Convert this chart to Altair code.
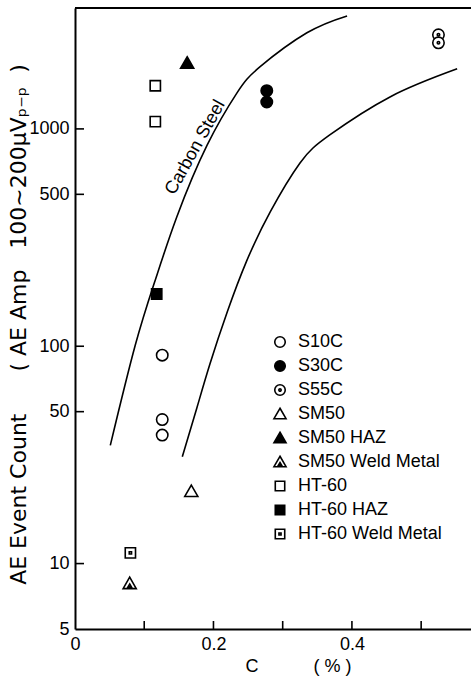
import altair as alt
import pandas as pd

# ---------------- data ----------------
legend_order = ["S10C", "S30C", "S55C", "SM50", "SM50 HAZ", "SM50 Weld Metal",
                "HT-60", "HT-60 HAZ", "HT-60 Weld Metal"]

pt_series = ["S10C", "S10C", "S10C", "S30C", "S30C", "S55C", "S55C", "SM50",
             "SM50 HAZ", "SM50 Weld Metal", "HT-60", "HT-60", "HT-60 HAZ",
             "HT-60 Weld Metal"]
pt_c = [0.126, 0.126, 0.126, 0.277, 0.277, 0.525, 0.525, 0.168,
        0.162, 0.079, 0.116, 0.116, 0.118, 0.080]
pt_count = [91, 46, 39, 1500, 1330, 2710, 2490, 21.5,
            2010, 8.1, 1580, 1080, 174, 11.2]

upper_c = [0.051, 0.087, 0.116, 0.147, 0.191, 0.234, 0.267, 0.335, 0.393]
upper_count = [35, 101, 202, 393, 844, 1465, 1928, 2768, 3311]
lower_c = [0.155, 0.176, 0.195, 0.220, 0.248, 0.282, 0.325, 0.368, 0.455, 0.552]
lower_count = [31, 52, 83, 144, 247, 415, 697, 938, 1403, 1889]

x_tick_values = [0.1, 0.2, 0.3, 0.4, 0.5]
x_label_values = [0, 0.2, 0.4]
y_tick_values = [10, 50, 100, 500, 1000]
y_label_values = [5, 10, 50, 100, 500, 1000]

curve_label = ["Carbon Steel"]
curve_label_c = [0.174]
curve_label_count = [822]

# ---------------- tables ----------------
pts = pd.DataFrame({"series": pt_series, "c": pt_c, "count": pt_count})
curves = pd.concat([
    pd.DataFrame({"curve": "upper", "c": upper_c, "count": upper_count}),
    pd.DataFrame({"curve": "lower", "c": lower_c, "count": lower_count}),
])
xticks = pd.DataFrame({"c": x_tick_values})
yticks = pd.DataFrame({"count": y_tick_values})
lab = pd.DataFrame({"t": curve_label, "c": curve_label_c, "count": curve_label_count})

W, H = 396, 621
FONT = "Liberation Sans"
NB = "\u00a0"

circle = "M1,0A1,1,0,1,1,-1,0A1,1,0,1,1,1,0Z"
dot_c = "M0.22,0A0.22,0.22,0,1,1,-0.22,0A0.22,0.22,0,1,1,0.22,0Z"
tri = "M0,-1.1L1.15,0.9L-1.15,0.9Z"
tri_dot = "M0,0.1L0.3,0.6L-0.3,0.6Z"
sq = "M-0.9,-0.9H0.9V0.9H-0.9Z"
sq_dot = "M-0.2,-0.2H0.2V0.2H-0.2Z"
shapes = [circle, circle, circle + dot_c, tri, tri, tri + tri_dot, sq, sq, sq + sq_dot]
fills = ["white", "black", "white", "white", "black", "white", "white", "black", "white"]
strokes = ["black"] * 9

xscale = alt.Scale(domain=[0, 0.572], nice=False, zero=False)
yscale = alt.Scale(type="log", domain=[5, 3600], nice=False)

y_title = ("AE" + NB + "Event" + NB + "Count" + NB * 6 + "(" + NB + "AE" + NB + "Amp"
           + NB * 3 + "100~200\u03bcV\u209a\u208b\u209a" + NB * 2 + ")")

xaxis = alt.Axis(values=x_label_values, ticks=False, grid=False,
                 labelExpr="datum.value == 0 ? '0' : format(datum.value, '.1f')",
                 labelFont=FONT, labelFontSize=18, labelPadding=6, labelFlush=False,
                 title="C" + NB * 11 + "(" + NB + "%" + NB + ")",
                 titleFont=FONT, titleFontSize=18, titleFontWeight="normal",
                 titleX=223, titleY=37, titleAnchor="middle", titleBaseline="middle",
                 titleAlign="center")
yaxis = alt.Axis(values=y_label_values, ticks=False, grid=False,
                 labelFont=FONT, labelFontSize=18, labelPadding=6, labelFlush=False,
                 format="d",
                 title=y_title,
                 titleFont="DejaVu Sans", titleFontSize=22, titleFontWeight="normal",
                 titleAngle=270, titleX=-57, titleY=316, titleAlign="center",
                 titleBaseline="middle")

leg = alt.Legend(orient="none", legendX=196, legendY=325, title=None,
                 labelFont=FONT, labelFontSize=18, labelColor="black",
                 symbolSize=110, symbolStrokeWidth=1.6,
                 rowPadding=6, labelOffset=9, padding=0)

points = alt.Chart(pts).mark_point(filled=True, opacity=1,
                                   strokeWidth=1.6, size=130).encode(
    x=alt.X("c:Q", scale=xscale, axis=xaxis),
    y=alt.Y("count:Q", scale=yscale, axis=yaxis),
    shape=alt.Shape("series:N", scale=alt.Scale(domain=legend_order, range=shapes), legend=leg),
    fill=alt.Fill("series:N", scale=alt.Scale(domain=legend_order, range=fills), legend=leg),
    stroke=alt.Stroke("series:N", scale=alt.Scale(domain=legend_order, range=strokes), legend=leg),
)

lines = alt.Chart(curves).mark_line(color="black", strokeWidth=1.6,
                                    interpolate="natural").encode(
    x=alt.X("c:Q", scale=xscale),
    y=alt.Y("count:Q", scale=yscale),
    detail="curve:N",
)

label = alt.Chart(lab).mark_text(font=FONT, fontSize=18, angle=299,
                                 color="black").encode(
    x=alt.X("c:Q", scale=xscale),
    y=alt.Y("count:Q", scale=yscale),
    text="t:N",
)

xtick_marks = alt.Chart(xticks).mark_rule(color="black", strokeWidth=1.6).encode(
    x=alt.X("c:Q", scale=xscale), y=alt.value(H), y2=alt.value(H - 8))
ytick_marks = alt.Chart(yticks).mark_rule(color="black", strokeWidth=1.6).encode(
    y=alt.Y("count:Q", scale=yscale), x=alt.value(0), x2=alt.value(9))
top_line = alt.Chart(xticks).mark_rule(color="black", strokeWidth=2).encode(
    x=alt.value(0), x2=alt.value(W), y=alt.value(0))

chart = alt.layer(lines, label, xtick_marks, ytick_marks, top_line, points).properties(
    width=W, height=H,
    autosize=alt.AutoSizeParams(type="none"),
    padding={"left": 75, "top": 8, "right": 0, "bottom": 51},
    background="white",
).configure_view(stroke=None).configure_axis(
    domainColor="black", domainWidth=2, labelColor="black", titleColor="black"
)

chart.save("out.html", embed_options={"renderer": "svg", "actions": False})
